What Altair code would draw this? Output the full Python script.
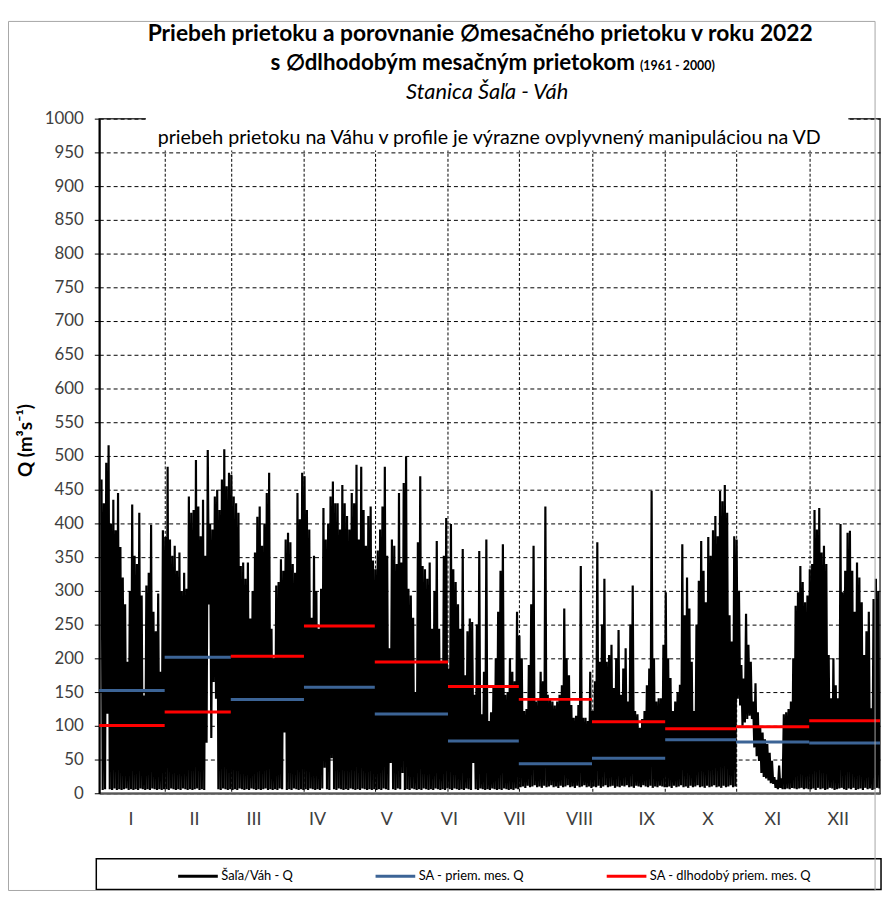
import altair as alt
import pandas as pd

# ---------------- data ----------------
SERIES = ["Šaľa/Váh - Q", "SA - priem. mes. Q", "SA - dlhodobý priem. mes. Q"]
COLORS = ["#000000", "#3C6496", "#FF0000"]

month_start = [0, 31, 59, 90, 120, 151, 181, 212, 243, 273, 304]
month_end = [31, 59, 90, 120, 151, 181, 212, 243, 273, 304, 334]
first_data_day = [4, 31, 59, 90, 120, 151, 181, 212, 243, 273, 304]

# daily maxima / minima of the flow (m3/s), per month
qmax_jan = [465, 430, 490, 516, 400, 435, 390, 445, 365, 320, 280, 195, 300, 428, 352, 340, 416, 293, 145, 308, 327, 398, 269, 240, 296, 180, 390]
qmin_jan = [5, 6, 118, 6, 5, 7, 5, 6, 5, 6, 7, 5, 6, 5, 6, 5, 7, 6, 5, 6, 5, 7, 6, 5, 6, 5, 6]
qmax_feb = [380, 484, 376, 352, 367, 330, 357, 300, 327, 303, 440, 416, 420, 494, 425, 381, 435, 352, 509, 400, 391, 440, 450, 420, 465, 510, 455, 475]
qmin_feb = [6, 5, 7, 6, 5, 6, 5, 7, 6, 5, 6, 5, 6, 7, 5, 6, 5, 75, 280, 82, 165, 140, 6, 5, 7, 6, 5, 6]
qmax_mar = [472, 440, 430, 416, 337, 342, 318, 342, 259, 300, 357, 410, 425, 367, 400, 445, 475, 244, 200, 308, 313, 347, 330, 376, 386, 372, 340, 327, 445, 406, 475]
qmin_mar = [5, 6, 5, 7, 6, 5, 6, 5, 7, 6, 5, 6, 5, 6, 7, 5, 6, 5, 6, 5, 7, 6, 90, 5, 6, 5, 7, 6, 5, 6, 5]
qmax_apr = [470, 420, 391, 260, 352, 300, 244, 303, 423, 376, 400, 440, 462, 430, 430, 391, 457, 430, 411, 391, 445, 430, 487, 376, 484, 420, 367, 411, 425, 345]
qmin_apr = [6, 5, 7, 6, 5, 6, 5, 7, 38, 6, 5, 52, 6, 5, 7, 6, 5, 6, 5, 7, 6, 5, 6, 5, 7, 6, 5, 6, 5, 6]
qmax_may = [332, 360, 391, 425, 484, 352, 215, 376, 367, 340, 445, 342, 460, 499, 303, 293, 260, 150, 372, 470, 337, 332, 318, 342, 244, 300, 374, 244, 195, 352, 408]
qmin_may = [5, 6, 5, 7, 6, 5, 45, 6, 5, 7, 6, 30, 5, 6, 5, 7, 6, 5, 6, 5, 7, 6, 5, 6, 5, 7, 6, 5, 6, 5, 7]
qmax_jun = [185, 399, 332, 313, 280, 244, 362, 175, 240, 259, 254, 146, 250, 359, 117, 180, 376, 107, 120, 156, 200, 269, 330, 369, 146, 150, 200, 180, 166, 269]
qmin_jun = [6, 5, 7, 6, 5, 6, 5, 7, 6, 5, 45, 6, 5, 7, 6, 5, 6, 5, 7, 6, 5, 6, 5, 7, 6, 5, 6, 5, 7, 6]
qmax_jul = [234, 200, 122, 125, 190, 280, 367, 136, 140, 180, 166, 425, 146, 140, 136, 130, 136, 146, 160, 274, 200, 175, 131, 112, 115, 131, 337, 112, 112, 107, 180]
qmin_jul = [9, 10, 8, 11, 9, 10, 12, 9, 10, 8, 11, 9, 10, 12, 9, 10, 8, 11, 9, 10, 12, 9, 10, 8, 11, 9, 10, 12, 9, 10, 8]
qmax_aug = [122, 166, 372, 195, 250, 318, 195, 205, 220, 156, 200, 242, 146, 185, 215, 136, 250, 308, 122, 117, 97, 110, 122, 160, 185, 448, 200, 136, 141, 141, 220]
qmin_aug = [10, 9, 11, 8, 10, 12, 9, 10, 11, 8, 10, 9, 11, 10, 12, 9, 10, 8, 11, 10, 9, 12, 10, 9, 11, 8, 10, 9, 11, 10, 9]
qmax_sep = [298, 200, 171, 122, 136, 150, 161, 369, 264, 320, 274, 195, 122, 250, 315, 374, 330, 283, 380, 352, 390, 411, 381, 448, 433, 457, 416, 264, 225, 381]
qmin_sep = [9, 10, 8, 11, 9, 10, 12, 9, 10, 8, 11, 9, 10, 12, 9, 10, 8, 11, 9, 10, 12, 9, 10, 8, 11, 9, 10, 12, 9, 10]
qmax_oct = [376, 300, 190, 170, 266, 220, 195, 136, 163, 120, 97, 90, 80, 73, 60, 48, 24, 20, 41, 22, 117, 120, 125, 136, 200, 278, 298, 337, 313, 283, 293]
qmin_oct = [140, 130, 100, 105, 110, 115, 110, 68, 55, 48, 30, 24, 22, 19, 15, 14, 8, 6, 8, 6, 6, 7, 6, 8, 7, 6, 7, 8, 6, 7, 6]
qmax_nov = [332, 340, 420, 391, 423, 357, 367, 340, 205, 141, 200, 160, 141, 399, 298, 330, 386, 389, 330, 269, 342, 320, 283, 205, 240, 269, 126, 288, 318, 300]
qmin_nov = [6, 7, 5, 8, 6, 7, 5, 6, 8, 7, 5, 6, 7, 8, 6, 5, 7, 6, 8, 5, 6, 7, 5, 8, 6, 7, 5, 6, 8, 7]

qmax_all = [qmax_jan, qmax_feb, qmax_mar, qmax_apr, qmax_may, qmax_jun,
            qmax_jul, qmax_aug, qmax_sep, qmax_oct, qmax_nov]
qmin_all = [qmin_jan, qmin_feb, qmin_mar, qmin_apr, qmin_may, qmin_jun,
            qmin_jul, qmin_aug, qmin_sep, qmin_oct, qmin_nov]

# monthly means 2022 (blue) and long-term 1961-2000 monthly means (red)
mean_2022 = [152.5, 201.5, 139, 157, 117.6, 77.5, 43.6, 52, 79.4, 76, 74.5]
mean_longterm = [100.5, 120.6, 203, 248, 194.6, 158.3, 139.2, 105.9, 95.6, 98.5, 107.4]

# x-axis month labels and their positions (day of year)
month_labels = ["I", "II", "III", "IV", "V", "VI", "VII", "VIII", "IX", "X", "XI", "XII"]
label_days = [16.7, 43.6, 68.8, 95.7, 125.1, 151.6, 179.3, 206.7, 235.2, 261.2, 288.6, 316.3]

y_ticks = list(range(0, 1001, 50))

# ---------------- tables ----------------
rows = []
for d0, mx, mn in zip(first_data_day, qmax_all, qmin_all):
    for i, (a, b) in enumerate(zip(mx, mn)):
        rows.append({"t": d0 + i + 0.25, "q": a, "s": SERIES[0]})
        rows.append({"t": d0 + i + 0.75, "q": b, "s": SERIES[0]})
flow = pd.DataFrame(rows)

seg_rows = []
for s0, s1, v in zip(month_start, month_end, mean_2022):
    seg_rows.append({"t": s0, "t2": s1, "q": v, "s": SERIES[1]})
for s0, s1, v in zip(month_start, month_end, mean_longterm):
    seg_rows.append({"t": s0, "t2": s1, "q": v, "s": SERIES[2]})
segs = pd.DataFrame(seg_rows)

labels = pd.DataFrame({"t": label_days, "m": month_labels})
one = pd.DataFrame({"k": [0]})

W, H = 787, 680
FONT = "Lato"
YTITLE = "Q (m³s⁻¹)"

xscale = alt.Scale(domain=[3.3, 334], nice=False, zero=False)
yscale = alt.Scale(domain=[0, 1000], nice=False)
cscale = alt.Scale(domain=SERIES, range=COLORS)

xaxis = alt.Axis(values=month_start[1:], tickCount=len(month_start) + 2, grid=True,
                 gridDash=[3, 2], gridColor="#000000",
                 gridWidth=1, labels=False, ticks=False, domain=True,
                 domainColor="#595959", domainWidth=2, title=None)
yaxis = alt.Axis(values=y_ticks, tickCount=len(y_ticks) + 2, format="d", labelOverlap=False,
                 grid=True, gridDash=[4, 3], gridColor="#000000", gridWidth=1,
                 tickSize=5, tickColor="#000000", tickWidth=1, domainColor="#000000",
                 domainWidth=2, labelFont=FONT, labelFontSize=17, labelColor="#404040",
                 labelPadding=11, title=YTITLE, titleFont=FONT, titleFontSize=19,
                 titleFontWeight="bold", titleColor="#000000", titleX=-64, titleY=324)

legend = alt.Legend(orient="none", legendX=78, legendY=742, direction="horizontal",
                    title=None, symbolType="stroke", symbolSize=1600, symbolStrokeWidth=3,
                    labelFont=FONT, labelFontSize=13, labelColor="#000000", labelOffset=2,
                    labelLimit=400, columnPadding=76, padding=0)

line = alt.Chart(flow).mark_line(strokeWidth=2.2, clip=True).encode(
    x=alt.X("t:Q", scale=xscale, axis=xaxis, title=None),
    y=alt.Y("q:Q", scale=yscale, axis=yaxis, title=YTITLE),
    color=alt.Color("s:N", scale=cscale, legend=legend),
    order=alt.Order("t:Q"),
)

rules = alt.Chart(segs).mark_rule(strokeWidth=3, clip=True).encode(
    x=alt.X("t:Q", scale=xscale, axis=xaxis, title=None),
    x2="t2:Q",
    y=alt.Y("q:Q", scale=yscale, axis=yaxis, title=YTITLE),
    color=alt.Color("s:N", scale=cscale, legend=legend),
)

xlabels = alt.Chart(labels).mark_text(font=FONT, fontSize=18, color="#404040",
                                      baseline="middle", align="center").encode(
    x=alt.X("t:Q", scale=xscale, axis=xaxis, title=None),
    y=alt.value(H + 27),
    text="m:N",
)

note_box = alt.Chart(one).mark_rect(fill="white").encode(
    x=alt.value(47), x2=alt.value(755), y=alt.value(-4), y2=alt.value(32))
note = alt.Chart(one).mark_text(text="priebeh prietoku na Váhu v profile je výrazne ovplyvnený manipuláciou na VD",
                                font=FONT, fontSize=19.8, color="#000000", align="center",
                                baseline="middle").encode(x=alt.value(393), y=alt.value(20))

t1 = alt.Chart(one).mark_text(text="Priebeh prietoku a porovnanie ∅mesačného prietoku v roku 2022",
                              font=FONT, fontSize=23, fontWeight="bold", color="#000000",
                              align="center", baseline="middle").encode(x=alt.value(384), y=alt.value(-85))
t2a = alt.Chart(one).mark_text(text="s ∅dlhodobým mesačným prietokom",
                               font=FONT, fontSize=22.5, fontWeight="bold", color="#000000",
                               align="right", baseline="middle").encode(x=alt.value(540), y=alt.value(-56))
t2b = alt.Chart(one).mark_text(text="(1961 - 2000)",
                               font=FONT, fontSize=12.5, fontWeight="bold", color="#000000",
                               align="left", baseline="middle").encode(x=alt.value(545), y=alt.value(-53))
t3 = alt.Chart(one).mark_text(text="Stanica Šaľa - Váh",
                              font=FONT, fontSize=22, fontStyle="italic", color="#000000",
                              align="center", baseline="middle").encode(x=alt.value(391), y=alt.value(-27))

legend_box = alt.Chart(one).mark_rect(fillOpacity=0, stroke="#000000", strokeWidth=1.5).encode(
    x=alt.value(-3), x2=alt.value(788), y=alt.value(746), y2=alt.value(777))
outer_box = alt.Chart(one).mark_rect(fillOpacity=0, stroke="#A6A6A6", strokeWidth=1).encode(
    x=alt.value(-91.5), x2=alt.value(782), y=alt.value(-98), y2=alt.value(778))

chart = alt.layer(
    line, rules, note_box, note, xlabels, t1, t2a, t2b, t3, legend_box, outer_box
).properties(
    width=W, height=H,
    autosize=alt.AutoSizeParams(type="none"),
    padding={"left": 92, "top": 108, "right": 4, "bottom": 99},
    background="white",
).configure_view(stroke="#404040", strokeWidth=1.5)

chart.save("out.html", embed_options={"renderer": "svg", "actions": False})
